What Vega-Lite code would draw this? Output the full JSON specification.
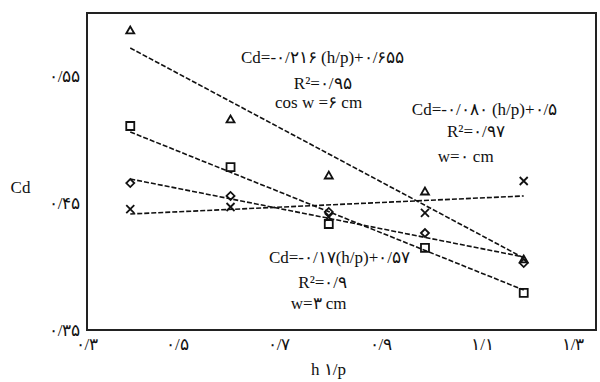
{
  "$schema": "https://vega.github.io/schema/vega-lite/v6.json",
  "width": 509,
  "height": 317,
  "autosize": {"type": "none"},
  "padding": {"left": 87, "top": 13, "right": 4, "bottom": 52},
  "background": "white",
  "config": {
    "view": {"stroke": "#222", "strokeWidth": 2},
    "font": "Liberation Serif"
  },
  "datasets": {
    "points": [
      {"series": "tri", "x": 0.385, "y": 0.5866},
      {"series": "tri", "x": 0.582, "y": 0.5164},
      {"series": "tri", "x": 0.775, "y": 0.4722},
      {"series": "tri", "x": 0.964, "y": 0.4596},
      {"series": "tri", "x": 1.158, "y": 0.4060},
      {"series": "sq", "x": 0.385, "y": 0.5109},
      {"series": "sq", "x": 0.582, "y": 0.4785},
      {"series": "sq", "x": 0.775, "y": 0.4336},
      {"series": "sq", "x": 0.964, "y": 0.4147},
      {"series": "sq", "x": 1.158, "y": 0.3792},
      {"series": "dia", "x": 0.385, "y": 0.4659},
      {"series": "dia", "x": 0.582, "y": 0.4557},
      {"series": "dia", "x": 0.775, "y": 0.4431},
      {"series": "dia", "x": 0.964, "y": 0.4265},
      {"series": "dia", "x": 1.158, "y": 0.4028},
      {"series": "x", "x": 0.385, "y": 0.4454},
      {"series": "x", "x": 0.582, "y": 0.4470},
      {"series": "x", "x": 0.775, "y": 0.4391},
      {"series": "x", "x": 0.964, "y": 0.4423},
      {"series": "x", "x": 1.158, "y": 0.4675}
    ],
    "trends": [
      {"series": "tri", "x": 0.385, "y": 0.5724},
      {"series": "tri", "x": 1.158, "y": 0.4068},
      {"series": "sq", "x": 0.385, "y": 0.5062},
      {"series": "sq", "x": 1.158, "y": 0.3815},
      {"series": "dia", "x": 0.385, "y": 0.4691},
      {"series": "dia", "x": 1.158, "y": 0.4076},
      {"series": "x", "x": 0.385, "y": 0.4415},
      {"series": "x", "x": 1.158, "y": 0.4557}
    ],
    "notes": [
      {"x": 0.763, "y": 0.5645, "label": "Cd=-۰/۲۱۶ (h/p)+۰/۶۵۵"},
      {"x": 0.763, "y": 0.5440, "label": "R²=۰/۹۵"},
      {"x": 0.755, "y": 0.5290, "label": "cos w =۶ cm"},
      {"x": 1.081, "y": 0.5235, "label": "Cd=-۰/۰۸۰ (h/p)+۰/۵"},
      {"x": 1.064, "y": 0.5062, "label": "R²=۰/۹۷"},
      {"x": 1.044, "y": 0.4864, "label": "w=۰ cm"},
      {"x": 0.796, "y": 0.4068, "label": "Cd=-۰/۱۷(h/p)+۰/۵۷"},
      {"x": 0.763, "y": 0.3870, "label": "R²=۰/۹"},
      {"x": 0.755, "y": 0.3705, "label": "w=۳ cm"}
    ]
  },
  "encoding": {
    "x": {
      "field": "x", "type": "quantitative",
      "scale": {"domain": [0.3, 1.3], "nice": false, "zero": false},
      "axis": {
        "values": [0.3, 0.5, 0.7, 0.9, 1.1, 1.3],
        "labelExpr": "format(datum.value,'.1f')=='0.3'?'۰/۳':format(datum.value,'.1f')=='0.5'?'۰/۵':format(datum.value,'.1f')=='0.7'?'۰/۷':format(datum.value,'.1f')=='0.9'?'۰/۹':format(datum.value,'.1f')=='1.1'?'۱/۱':'۱/۳'",
        "domain": false, "ticks": false, "grid": false,
        "labelFont": "Liberation Serif", "labelFontSize": 17, "labelColor": "#111",
        "labelPadding": 6, "labelFlush": true, "labelOffset": -12,
        "title": "h ۱/p", "titleFont": "Liberation Serif", "titleFontSize": 17, "titleFontWeight": "normal",
        "titleColor": "#111", "titleX": 241, "titleY": 39, "titleBaseline": "middle", "titleAlign": "center"
      }
    },
    "y": {
      "field": "y", "type": "quantitative",
      "scale": {"domain": [0.35, 0.6], "nice": false, "zero": false},
      "axis": {
        "values": [0.35, 0.45, 0.55],
        "labelExpr": "format(datum.value,'.2f')=='0.35'?'۰/۳۵':format(datum.value,'.2f')=='0.45'?'۰/۴۵':'۰/۵۵'",
        "domain": false, "ticks": false, "grid": false,
        "labelFont": "Liberation Serif", "labelFontSize": 17, "labelColor": "#111",
        "labelPadding": 7, "labelBaseline": "middle",
        "title": "Cd", "titleAngle": 0, "titleFont": "Liberation Serif", "titleFontSize": 17, "titleFontWeight": "normal",
        "titleColor": "#111", "titleX": -67, "titleY": 174, "titleBaseline": "middle", "titleAlign": "center"
      }
    }
  },
  "layer": [
    {
      "data": {"name": "trends"},
      "mark": {"type": "line", "color": "#111", "strokeWidth": 1.6, "strokeDash": [5, 2]},
      "encoding": {"detail": {"field": "series"}}
    },
    {
      "data": {"name": "points"},
      "mark": {"type": "point", "filled": false, "color": "#111", "strokeWidth": 1.8, "size": 64, "opacity": 1},
      "encoding": {
        "shape": {
          "field": "series", "type": "nominal",
          "scale": {"domain": ["tri", "sq", "dia", "x"], "range": ["triangle-up", "square", "diamond", "M-1,-1L1,1M-1,1L1,-1"]},
          "legend": null
        }
      }
    },
    {
      "data": {"name": "notes"},
      "mark": {"type": "text", "font": "Liberation Serif", "fontSize": 17, "color": "#111", "align": "center", "baseline": "middle"},
      "encoding": {"text": {"field": "label"}}
    }
  ]
}
